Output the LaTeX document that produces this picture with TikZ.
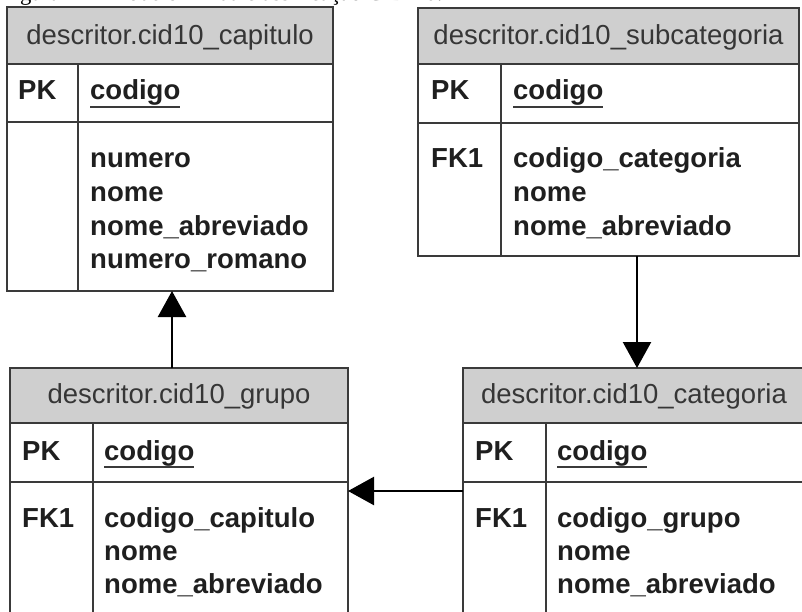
\documentclass[tikz,border=0pt]{standalone}
\usepackage{fontspec}
\setmainfont{Liberation Sans}
\newfontfamily\capfont{Liberation Serif}
\usetikzlibrary{arrows.meta,calc}
\definecolor{linegray}{HTML}{3A3A3A}
\definecolor{hdrgray}{HTML}{CFCFCF}
\definecolor{hdrtextc}{HTML}{363636}
\newcommand\ulx[1]{\setbox0\hbox{#1}\rlap{\color{linegray}\rule[-7.6pt]{\wd0}{1.8pt}}\box0}
\tikzset{
  tbl/.style={draw=linegray, line width=1.8pt, inner sep=0pt, outer sep=0pt, anchor=north west, rectangle},
  hdr/.style={tbl, fill=hdrgray},
  tline/.style={draw=linegray, line width=1.8pt},
  hdrtext/.style={anchor=base, inner sep=0pt, font=\fontsize{27.5}{33}\selectfont, text=hdrtextc},
  keytext/.style={anchor=base west, inner sep=0pt, font=\fontsize{27.5}{33}\selectfont\bfseries, text=black!88},
  rel/.style={line width=2.4pt, draw=black, -{Triangle[width=28pt,length=26pt]}},
}
\begin{document}
\begin{tikzpicture}[x=1pt,y=-1pt]
\useasboundingbox (0,0) rectangle (802,612);
\clip (0,0) rectangle (802,612);
\fill[white] (0,0) rectangle (802,612);

% caption (cut off at the top, as in the source)
\node[anchor=base west, inner sep=0pt, font=\capfont\fontsize{22.7}{23}\selectfont] (caption) at (1,1) {Figura 12 - Modelo ER da classificação CID-10.};

% ---------- cid10_capitulo ----------
\node[hdr, minimum width=326pt, minimum height=57pt] (capH) at (7,7) {};
\node[tbl, minimum width=326pt, minimum height=58pt] (capPK) at (7,64) {};
\node[tbl, minimum width=326pt, minimum height=169pt] (capA) at (7,122) {};
\draw[tline] (78,64) -- (78,291);
\node[hdrtext] (capHt) at (170,45) {descritor.cid10\_capitulo};
\node[keytext] (capPKl) at (18,100) {PK};
\node[keytext] (capPKt) at (90,100) {\ulx{codigo}};
\node[keytext] (capA1) at (90,168) {numero};
\node[keytext] (capA2) at (90,201.5) {nome};
\node[keytext] (capA3) at (90,235) {nome\_abreviado};
\node[keytext] (capA4) at (90,268) {numero\_romano};

% ---------- cid10_subcategoria ----------
\node[hdr, minimum width=381pt, minimum height=56pt] (subH) at (418,8) {};
\node[tbl, minimum width=381pt, minimum height=59pt] (subPK) at (418,64) {};
\node[tbl, minimum width=381pt, minimum height=133pt] (subA) at (418,123) {};
\draw[tline] (501,64) -- (501,256);
\node[hdrtext] (subHt) at (608.5,45) {descritor.cid10\_subcategoria};
\node[keytext] (subPKl) at (431,100) {PK};
\node[keytext] (subPKt) at (513,100) {\ulx{codigo}};
\node[keytext] (subFKl) at (431,168) {FK1};
\node[keytext] (subA1) at (513,168) {codigo\_categoria};
\node[keytext] (subA2) at (513,201.5) {nome};
\node[keytext] (subA3) at (513,235) {nome\_abreviado};

% ---------- cid10_grupo ----------
\node[hdr, minimum width=338pt, minimum height=55pt] (grpH) at (10,368) {};
\node[tbl, minimum width=338pt, minimum height=59pt] (grpPK) at (10,423) {};
\node[tbl, minimum width=338pt, minimum height=200pt] (grpA) at (10,482) {};
\draw[tline] (93,423) -- (93,700);
\node[hdrtext] (grpHt) at (179,403) {descritor.cid10\_grupo};
\node[keytext] (grpPKl) at (22,460) {PK};
\node[keytext] (grpPKt) at (104,460) {\ulx{codigo}};
\node[keytext] (grpFKl) at (22,527) {FK1};
\node[keytext] (grpA1) at (104,527) {codigo\_capitulo};
\node[keytext] (grpA2) at (104,560) {nome};
\node[keytext] (grpA3) at (104,593) {nome\_abreviado};

% ---------- cid10_categoria ----------
\node[hdr, minimum width=348pt, minimum height=55pt] (catH) at (463,368) {};
\node[tbl, minimum width=348pt, minimum height=59pt] (catPK) at (463,423) {};
\node[tbl, minimum width=348pt, minimum height=200pt] (catA) at (463,482) {};
\draw[tline] (546,423) -- (546,700);
\node[hdrtext] (catHt) at (634,403) {descritor.cid10\_categoria};
\node[keytext] (catPKl) at (475,460) {PK};
\node[keytext] (catPKt) at (557,460) {\ulx{codigo}};
\node[keytext] (catFKl) at (475,527) {FK1};
\node[keytext] (catA1) at (557,527) {codigo\_grupo};
\node[keytext] (catA2) at (557,560) {nome};
\node[keytext] (catA3) at (557,593) {nome\_abreviado};

% ---------- relationships ----------
\draw[rel] ($(grpH.north)+(-7,0)$) -- ($(capA.south)+(2,0)$);
\draw[rel] (subA.south -| catH.north) -- (catH.north);
\coordinate (catRel) at (463,491);
\draw[rel] (catRel) -- (catRel -| grpA.east);
\end{tikzpicture}
\end{document}
